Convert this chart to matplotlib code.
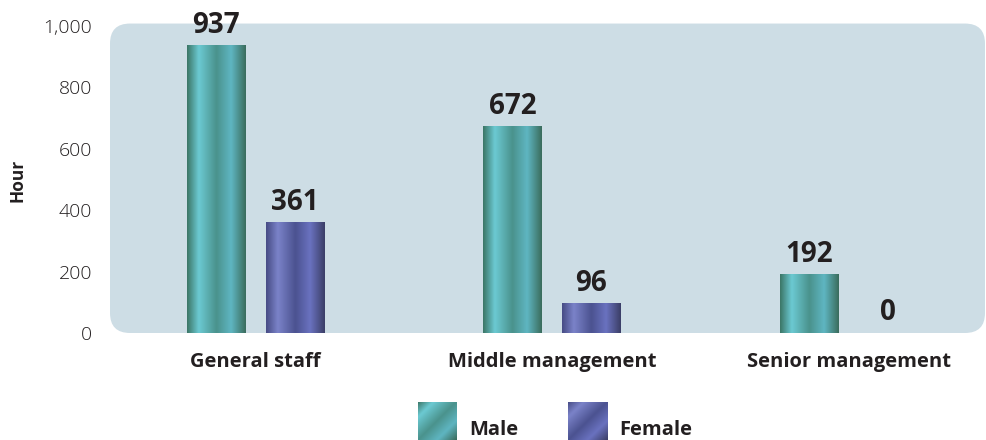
import numpy as np
import matplotlib.pyplot as plt
from matplotlib.colors import LinearSegmentedColormap
from matplotlib.patches import FancyBboxPatch

# data
categories = ['General staff', 'Middle management', 'Senior management']
male = [937, 672, 192]
female = [361, 96, 0]
series_names = ['Male', 'Female']
y_ticks = [0, 200, 400, 600, 800, 1000]

plt.rcParams['font.family'] = ['Open Sans', 'DejaVu Sans']

# metallic looking gradients
teal = LinearSegmentedColormap.from_list(
    'teal', [(0, '#3b7565'), (0.2, '#6ccad3'), (0.5, '#4a928c'), (0.75, '#5fb6c2'), (1, '#3a6c5c')])
purple = LinearSegmentedColormap.from_list(
    'purple', [(0, '#464b84'), (0.2, '#7b83c9'), (0.5, '#4b5290'), (0.75, '#6a72c0'), (1, '#3b3e66')])

fig = plt.figure(figsize=(9.86, 4.4), dpi=100)
ax_h = 307
ax = fig.add_axes([110 / 986, 107 / 440, 875 / 986, ax_h / 440])
ax.set_xlim(-0.49, 2.46)
ax.set_ylim(0, 1000)

# rounded light blue panel, reaching a touch above the top tick
box = FancyBboxPatch((0, 0), 1, 1.008, boxstyle='round,pad=0,rounding_size=0.0229',
                     mutation_aspect=875 / ax_h, transform=ax.transAxes,
                     facecolor='#cddde5', edgecolor='none', zorder=0, clip_on=False)
ax.add_patch(box)

grad = np.linspace(0, 1, 256).reshape(1, -1)
width = 0.196
offset = 0.133
x = np.arange(len(categories))

for vals, cmap, sign in [(male, teal, -1), (female, purple, 1)]:
    for xi, v in zip(x, vals):
        x0 = xi + sign * offset - width / 2
        if v > 0:
            ax.imshow(grad, cmap=cmap, aspect='auto', extent=(x0, x0 + width, 0, v),
                      zorder=2, interpolation='bicubic')
        ax.annotate(f'{v:,}', (xi + sign * offset, v), xytext=(0, 4), textcoords='offset points',
                    ha='center', va='bottom', fontsize=20, fontweight='bold', color='#231f20')

ax.set_xlim(-0.49, 2.46)
ax.set_ylim(0, 1000)
ax.set_xticks(x)
ax.set_xticklabels(categories, fontsize=14.5, fontweight='bold', color='#231f20')
ax.set_yticks(y_ticks)
ax.set_yticklabels([f'{t:,}' for t in y_ticks], fontsize=14, fontweight='light', color='#231f20')
ax.tick_params(axis='both', length=0)
ax.tick_params(axis='x', pad=14)
ax.tick_params(axis='y', pad=13)
for s in ax.spines.values():
    s.set_visible(False)
ax.patch.set_visible(False)

fig.text(18 / 986, 0.59, 'Hour', rotation=90, ha='center', va='center',
         fontsize=12.5, fontweight='bold', color='#231f20')

# legend with gradient squares
diag = np.add.outer(np.linspace(0, 1, 64), np.linspace(0, 1, 64)) / 2
for name, cmap, left, tx in [(series_names[0], teal, 418, 469), (series_names[1], purple, 568, 619)]:
    lax = fig.add_axes([left / 986, 0, 39 / 986, 38 / 440])
    lax.imshow(diag, cmap=cmap, aspect='auto', interpolation='bicubic')
    lax.axis('off')
    fig.text(tx / 986, 10 / 440, name, ha='left', va='center',
             fontsize=14.5, fontweight='bold', color='#231f20')

fig.savefig('out.png', dpi=100)
